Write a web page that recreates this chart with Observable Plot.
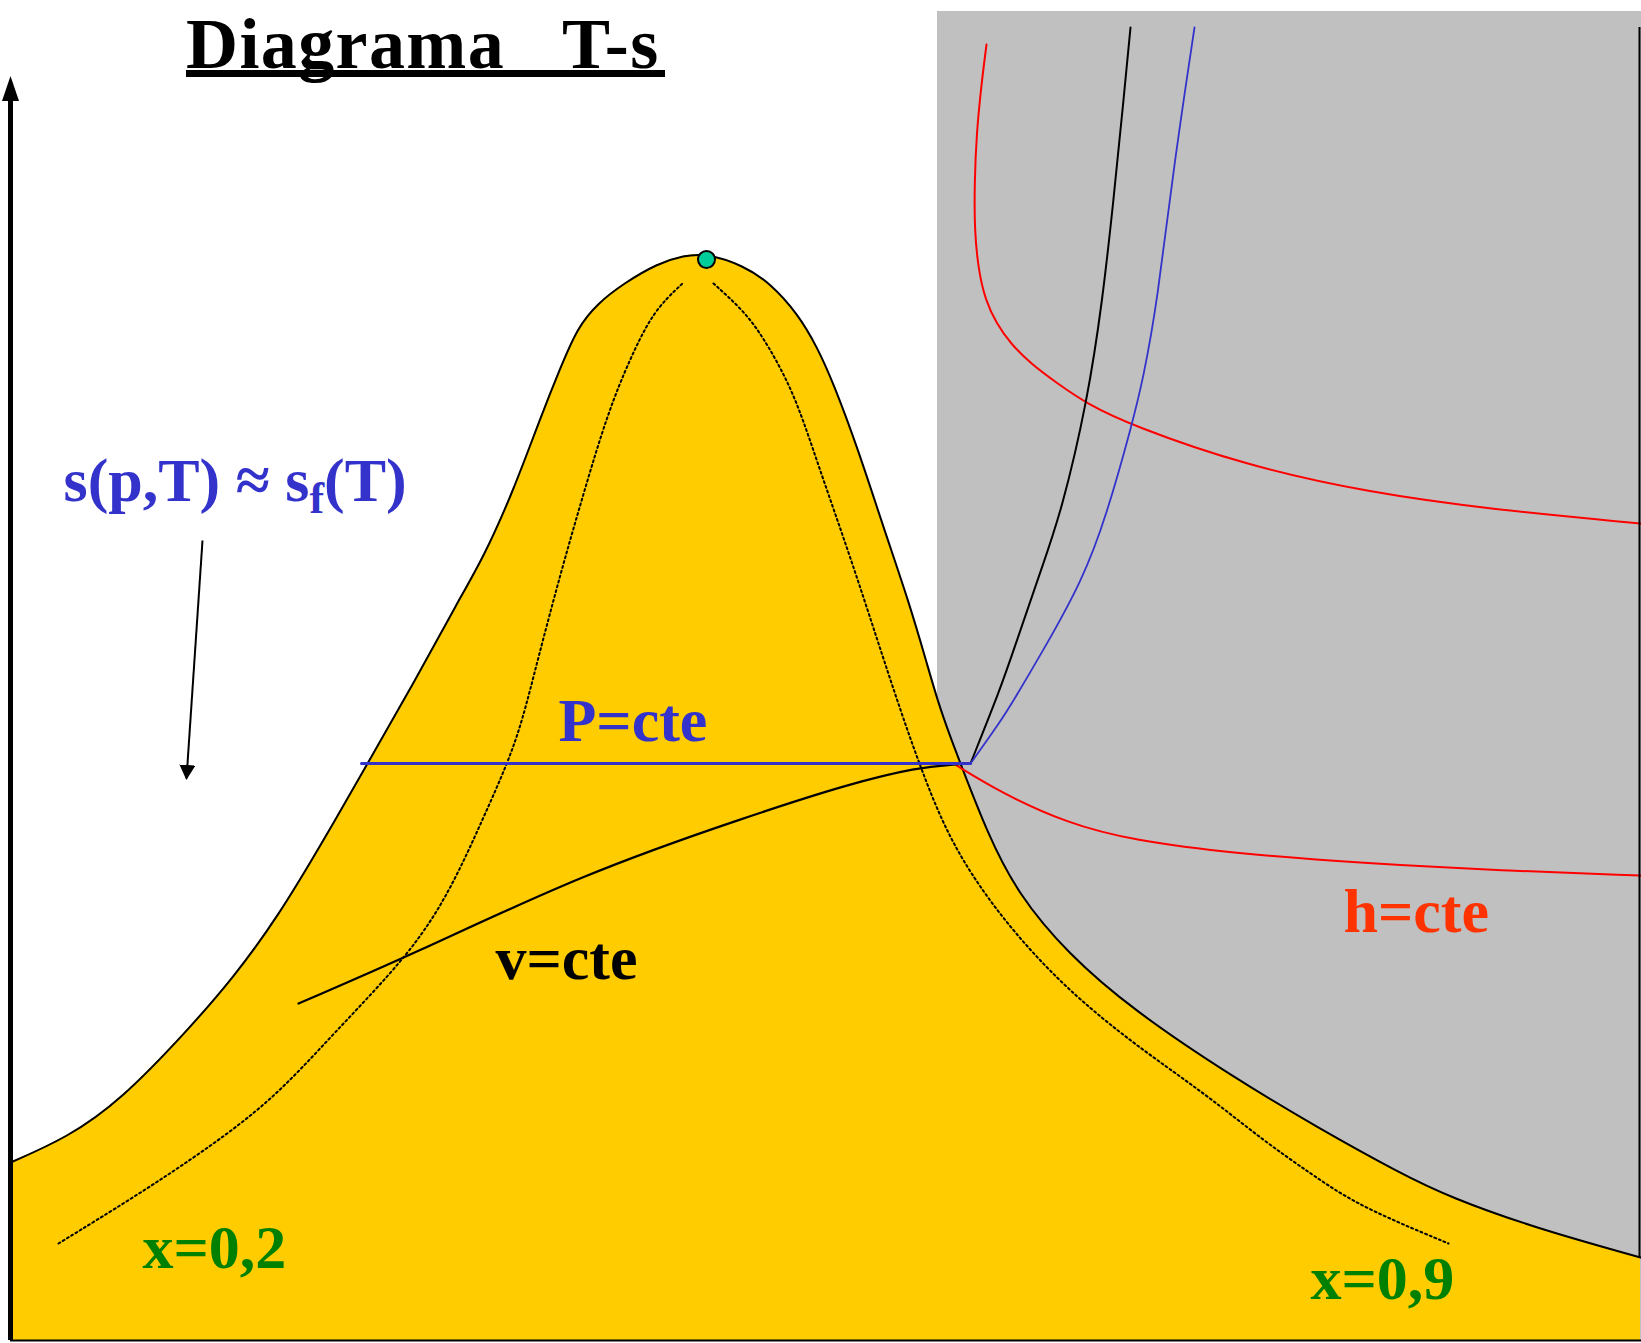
<!DOCTYPE html>
<html><head><meta charset="utf-8">
<script src="https://cdn.jsdelivr.net/npm/d3@7"></script>
<script src="https://cdn.jsdelivr.net/npm/@observablehq/plot@0.6"></script>
<style>
html,body{margin:0;padding:0;background:#fff;overflow:hidden;}
#wrap{position:relative;width:1641px;height:1343px;}
#wrap svg{position:absolute;left:0;top:0;}
#title{position:absolute;left:186px;top:8px;z-index:2;font-family:"Liberation Serif","Times New Roman",serif;font-weight:bold;font-size:72px;line-height:72px;letter-spacing:1.4px;white-space:pre;color:#000;}
#underline{position:absolute;left:186px;top:70px;width:479px;height:7px;background:#000;z-index:2;}
</style></head><body>
<div id="wrap"><div id="title">Diagrama   T-s</div><div id="underline"></div></div>
<script>
// Entropy s (arbitrary units) vs temperature T (arbitrary units)
const saturationDome = [[10,181],[67,206],[120,243],[187,313],[233,366],[277,426],[323,503],[367,580],[413,660],[458,743],[483,786],[513,853],[540,926],[560,976],[577,1016],[597,1040],[623,1060],[657,1080],[683,1088],[706,1090],[743,1078],[770,1060],[797,1030],[817,996],[833,960],[857,896],[883,816],[908,743],[927,678],[937,643],[950,606],[960,580],[987,510],[1017,450],[1067,390],[1133,333],[1233,266],[1317,216],[1400,170],[1450,146],[1533,116],[1640,86]];
const qualityLow = [[58,100],[133,146],[200,190],[272,243],[333,310],[410,390],[450,453],[483,526],[507,580],[522,623],[537,683],[560,770],[583,850],[607,930],[630,986],[650,1026],[667,1046],[682,1060]];
const qualityHigh = [[713,1060],[743,1033],[763,1006],[787,963],[803,923],[823,863],[850,786],[877,703],[900,633],[920,576],[950,500],[1000,426],[1060,360],[1120,310],[1167,276],[1213,243],[1263,203],[1310,170],[1350,143],[1400,120],[1448,100]];
const isobarMix = [[361,580],[970,580]];
const isobarVapor = [[970,580],[1000,622],[1013,643],[1041,690],[1082,763],[1106,828],[1131,917],[1143,966],[1157,1043],[1173,1176],[1194,1316]];
const isochoreMix = [[298,340],[410,388],[583,470],[750,528],[850,560],[917,576],[953,579],[970,580]];
const isochoreVapor = [[970,580],[1000,655],[1013,693],[1041,775],[1061,832],[1087,943],[1102,1043],[1113,1143],[1123,1243],[1130,1316]];
const isenthalpUpper = [[986,1299],[981,1260],[976,1210],[974,1160],[974,1113],[978,1073],[985,1043],[996,1020],[1010,1000],[1030,980],[1057,960],[1086,940],[1131,918],[1245,878],[1368,851],[1491,834],[1640,820]];
const isenthalpLower = [[953,580],[1000,551],[1067,520],[1133,503],[1233,490],[1368,480],[1500,473],[1640,468]];
const criticalPoint = [[706,1084]];
const vaporRegion = [{s1:937, s2:1641, T1:3, T2:1332}];
const vaporEdge = [{s:1639, T1:86, T2:1316}];
const axisT = [{s:10, T1:3, T2:1243}];
const axisS = [{T:3, s1:10, s2:1641}];
const noteArrow = [[202,803],[186,565]];
const labels = [
  {text:"P=cte", s:558, T:603, color:"#3333CC"},
  {text:"v=cte", s:495, T:365, color:"#000000"},
  {text:"h=cte", s:1343, T:412, color:"#FF3300"},
  {text:"x=0,2", s:142, T:76, color:"#008000"},
  {text:"x=0,9", s:1310, T:45, color:"#008000"}
];
const noteLabel = [{text:"s(p,T) \u2248 sf(T)", s:63, T:843, color:"#3333CC"}];

const pts = a => a.map(([s, T]) => ({s, T}));
const font = {fontFamily:"Liberation Serif", fontWeight:"bold", fontSize:62};
const smooth = "basis";

const chart = Plot.plot({
  width:1641, height:1343, margin:0,
  x:{domain:[0,1641], axis:null},
  y:{domain:[0,1343], axis:null},
  color:{type:"identity"},
  style:{background:"transparent", overflow:"visible"},
  marks:[
    Plot.rect(vaporRegion, {x1:"s1", x2:"s2", y1:"T1", y2:"T2", fill:"#C0C0C0"}),
    Plot.areaY(pts(saturationDome), {x:"s", y1:() => 3, y2:"T", fill:"#FFCC00", curve:smooth}),
    Plot.line(pts(qualityLow), {x:"s", y:"T", stroke:"#000", strokeWidth:2, strokeDasharray:"2 3", curve:smooth}),
    Plot.line(pts(qualityHigh), {x:"s", y:"T", stroke:"#000", strokeWidth:2, strokeDasharray:"2 3", curve:smooth}),
    Plot.line(pts(saturationDome), {x:"s", y:"T", stroke:"#000", strokeWidth:2, curve:smooth}),
    Plot.line(pts(isenthalpUpper), {x:"s", y:"T", stroke:"#FF0000", strokeWidth:2, curve:smooth}),
    Plot.line(pts(isenthalpLower), {x:"s", y:"T", stroke:"#FF0000", strokeWidth:2, curve:smooth}),
    Plot.line(pts(isochoreMix), {x:"s", y:"T", stroke:"#000", strokeWidth:2.2, curve:smooth}),
    Plot.line(pts(isochoreVapor), {x:"s", y:"T", stroke:"#000", strokeWidth:2, curve:smooth}),
    Plot.line(pts(isobarVapor), {x:"s", y:"T", stroke:"#3333CC", strokeWidth:1.8, curve:smooth}),
    Plot.line(pts(isobarMix), {x:"s", y:"T", stroke:"#3333CC", strokeWidth:3}),
    Plot.ruleX(vaporEdge, {x:"s", y1:"T1", y2:"T2", stroke:"#000", strokeWidth:2}),
    Plot.ruleY(axisS, {y:"T", x1:"s1", x2:"s2", stroke:"#000", strokeWidth:2}),
    Plot.ruleX(axisT, {x:"s", y1:"T1", y2:"T2", stroke:"#000", strokeWidth:5, ariaDescription:"t-axis"}),
    Plot.link([noteArrow], {x1:d => d[0][0], y1:d => d[0][1], x2:d => d[1][0], y2:d => d[1][1], stroke:"#000", strokeWidth:2, ariaDescription:"note-arrow"}),
    Plot.dot(pts(criticalPoint), {x:"s", y:"T", r:8.5, fill:"#00CC99", stroke:"#000", strokeWidth:2}),
    Plot.text(labels, {x:"s", y:"T", text:"text", fill:"color", textAnchor:"start", lineAnchor:"bottom", ...font}),
    Plot.text(noteLabel, {x:"s", y:"T", text:"text", fill:"color", textAnchor:"start", lineAnchor:"bottom", ariaDescription:"sf-label", ...font})
  ]
});

const svg = d3.select(chart);
const defs = svg.insert("defs", ":first-child");
defs.append("marker").attr("id","headSmall").attr("viewBox","0 0 10 10").attr("preserveAspectRatio","none")
  .attr("refX",9).attr("refY",5).attr("markerUnits","userSpaceOnUse").attr("markerWidth",15).attr("markerHeight",16).attr("orient","auto")
  .append("path").attr("d","M0,0L10,5L0,10Z").attr("fill","#000");
defs.append("marker").attr("id","headAxis").attr("viewBox","0 0 10 10").attr("preserveAspectRatio","none")
  .attr("refX",0.4).attr("refY",5).attr("markerUnits","userSpaceOnUse").attr("markerWidth",25).attr("markerHeight",17).attr("orient","auto")
  .append("path").attr("d","M0,0L10,5L0,10Z").attr("fill","#000");
svg.selectAll("g[aria-description='t-axis'] line").attr("marker-end","url(#headAxis)");
svg.selectAll("g[aria-description='note-arrow'] path").attr("marker-end","url(#headSmall)");

// subscript f in s_f(T)
svg.selectAll("g[aria-description='sf-label'] text").each(function() {
  const t = d3.select(this);
  const full = t.text();
  const i = full.lastIndexOf("f(");
  t.text(null);
  t.append("tspan").text(full.slice(0, i));
  t.append("tspan").attr("font-size", 44).attr("dy", 12).text("f");
  t.append("tspan").attr("dy", -12).text(full.slice(i + 1));
});

document.getElementById("wrap").prepend(chart);
</script>
</body></html>
